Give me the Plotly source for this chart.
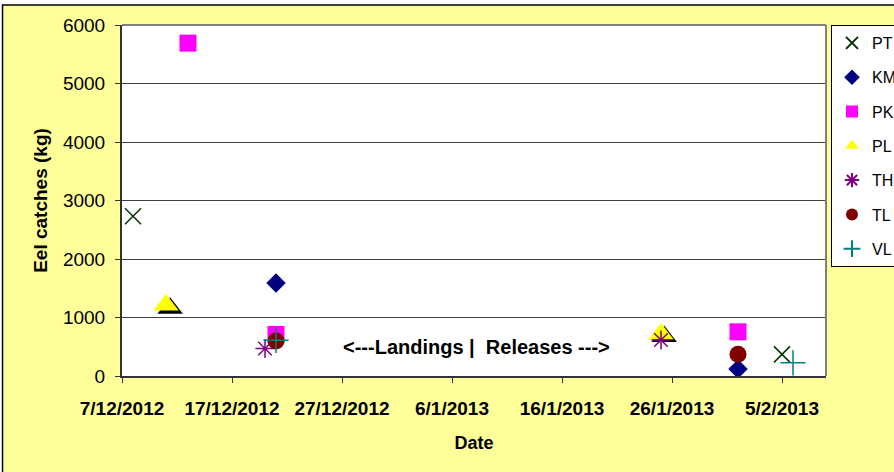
import plotly.graph_objects as go

# ---- data ----
pt_dates = ["2012-12-08", "2013-02-05"]
pt_vals = [2730, 370]
km_dates = ["2012-12-21", "2013-02-01"]
km_vals = [1590, 120]
pk_dates = ["2012-12-13", "2012-12-21", "2013-02-01"]
pk_vals = [5690, 710, 755]
pl_dates = ["2012-12-11", "2013-01-25"]
pl_vals = [1215, 718]
pl_shadow_dates = ["2012-12-11 09:00", "2013-01-25 07:00"]
pl_shadow_vals = [1160, 675]
th_dates = ["2012-12-20", "2013-01-25"]
th_vals = [470, 615]
tl_dates = ["2012-12-21", "2013-02-01"]
tl_vals = [600, 370]
vl_dates = ["2012-12-21", "2013-02-06"]
vl_vals = [610, 225]

x_tickvals = ["2012-12-07", "2012-12-17", "2012-12-27", "2013-01-06",
              "2013-01-16", "2013-01-26", "2013-02-05"]
x_ticktext = ["7/12/2012", "17/12/2012", "27/12/2012", "6/1/2013",
              "16/1/2013", "26/1/2013", "5/2/2013"]
y_tickvals = [0, 1000, 2000, 3000, 4000, 5000, 6000]

FONT = "Liberation Sans, Arial, sans-serif"

fig = go.Figure()

def add(name, xs, ys, symbol, color, size, lw=0, group=None, showlegend=True):
    fig.add_trace(go.Scatter(
        x=xs, y=ys, mode="markers", name=name,
        legendgroup=group or name, showlegend=showlegend,
        marker=dict(symbol=symbol, size=size, color=color,
                    line=dict(width=lw, color=color)),
    ))

add("PT", pt_dates, pt_vals, "x-thin-open", "#003300", 16, 1.5)
add("KM", km_dates, km_vals, "diamond", "#000080", 15)
add("PK", pk_dates, pk_vals, "square", "#FF00FF", 17)
add("PL shadow", pl_shadow_dates, pl_shadow_vals, "triangle-up", "#000000", 22,
    group="PL", showlegend=False)
add("PL", pl_dates, pl_vals, "triangle-up", "#FFFF00", 22)
add("TH", th_dates, th_vals, "asterisk-open", "#800080", 16, 1.5)
add("TL", tl_dates, tl_vals, "circle", "#800000", 17)
add("VL", vl_dates, vl_vals, "cross-thin-open", "#008080", 18, 1.5)

fig.add_annotation(x="2013-01-08 06:00", y=496, xref="x", yref="y",
                   text="<b>&lt;---Landings |\u00a0 Releases ---&gt;</b>",
                   showarrow=False, font=dict(family=FONT, size=20, color="#000000"))

# white strips outside the chart border (top & left)
fig.add_shape(type="rect", xref="paper", yref="paper",
              x0=-0.3, x1=1.3, y0=1.057, y1=1.2,
              fillcolor="#FFFFFF", line=dict(width=0), layer="above")
fig.add_shape(type="rect", xref="paper", yref="paper",
              x0=-0.3, x1=-0.1697, y0=-0.4, y1=1.2,
              fillcolor="#FFFFFF", line=dict(width=0), layer="above")
# chart border
fig.add_shape(type="rect", xref="paper", yref="paper",
              x0=-0.1697, x1=1.2, y0=-0.4, y1=1.057,
              fillcolor="rgba(0,0,0,0)", line=dict(color="#000000", width=1.5), layer="above")
# plot top/right border (grey)
fig.add_shape(type="line", xref="paper", yref="paper", x0=0, x1=1, y0=1, y1=1,
              line=dict(color="#808080", width=2), layer="above")
fig.add_shape(type="line", xref="paper", yref="paper", x0=1, x1=1, y0=0, y1=1,
              line=dict(color="#808080", width=2), layer="above")

fig.update_layout(
    width=894, height=472,
    margin=dict(l=122, r=68, t=25, b=96, autoexpand=False),
    paper_bgcolor="#FFFF99",
    plot_bgcolor="#FFFFFF",
    font=dict(family=FONT, color="#000000"),
    showlegend=True,
    legend=dict(x=1.0071, xanchor="left", y=1.0, yanchor="top",
                bgcolor="#FFFFFF", bordercolor="#000000", borderwidth=1,
                font=dict(family=FONT, size=16, color="#000000"),
                traceorder="grouped", tracegroupgap=10.5, itemsizing="constant",
                itemwidth=30),
    xaxis=dict(
        type="date", range=["2012-12-07", "2013-02-09"],
        tickvals=x_tickvals, ticktext=x_ticktext,
        ticks="outside", ticklen=5, tickcolor="#333333",
        showgrid=False, zeroline=False,
        showline=True, linecolor="#333333", linewidth=2,
        ticklabelstandoff=9,
        tickfont=dict(family=FONT, size=19, color="#000000", weight="bold"),
        title=dict(text="<b>Date</b>", font=dict(family=FONT, size=18), standoff=19),
    ),
    yaxis=dict(
        range=[0, 6000], tickvals=y_tickvals,
        ticks="outside", ticklen=5, tickcolor="#333333",
        showgrid=True, gridcolor="#404040", gridwidth=1,
        zeroline=False,
        showline=True, linecolor="#333333", linewidth=2,
        ticklabelstandoff=6,
        tickfont=dict(family=FONT, size=19, color="#000000"),
        title=dict(text="<b>Eel catches (kg)</b>", font=dict(family=FONT, size=19), standoff=10),
    ),
)

fig.write_html("out.html", config={"displayModeBar": False},
               post_script="document.body.style.margin='0';")
